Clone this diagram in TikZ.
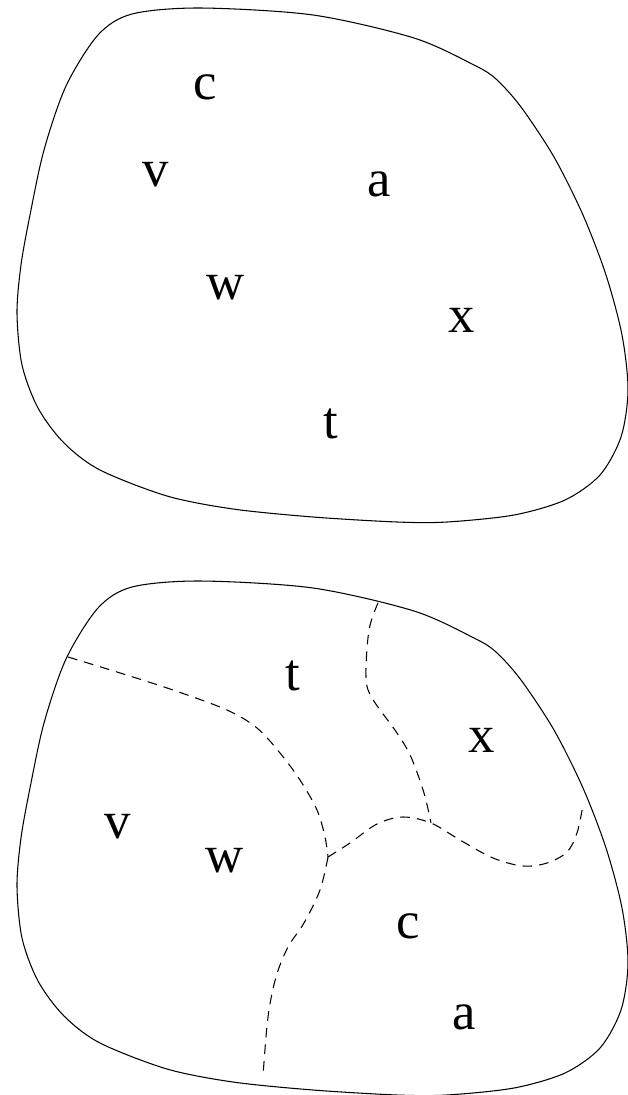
\documentclass[tikz,border=0pt]{standalone}
\usepackage{fontspec}
\setmainfont{Liberation Serif}
\usepackage{tikz}
\usetikzlibrary{positioning}

\newcommand{\blobpath}{plot[smooth cycle, tension=0.5] coordinates {
    (132,14) (200,8) (313,15) (414,38) (474,65) (496,79) (521,107)
    (554,157) (583,215) (606,275) (622,335) (628,390) (621,437)
    (600,475) (565,500) (514,515) (447,522) (397,522) (313,517)
    (233,509) (167,496) (100,470) (64,443) (38,408) (22,365) (17,313)
    (21,265) (30,215) (44,150) (66,86) (98,35)}}

\begin{document}
\begin{tikzpicture}[
  x=0.02cm, y=-0.02cm,
  blob/.style={draw, line width=0.6pt},
  border/.style={draw, line width=0.6pt, dash pattern=on 5.5pt off 4pt},
  elem/.style={font=\fontsize{30}{30}\selectfont, inner sep=0pt}
]
  \useasboundingbox (0,0) rectangle (628,1095);

  % the set, as given
  \draw[blob] \blobpath;
  \node[elem] (c1) at (205,87)  {c};
  \node[elem] (v1) at (156,175) {v};
  \node[elem] (a1) at (379,184) {a};
  \node[elem] (w1) at (226,288) {w};
  \node[elem] (x1) at (462,320) {x};
  \node[elem] (t1) at (331,424) {t};

  % the same set, cut into parts
  \begin{scope}[yshift=-573*0.02cm]
    \draw[blob] \blobpath;
  \end{scope}

  \coordinate (mid) at (328,857);
  \coordinate (knee) at (431,823);
  \draw[border] plot[smooth, tension=0.55] coordinates {
    (68,657) (117,672) (173,690) (227,710) (257,728) (280,753)
    (300,780) (317,810) (325,837) (mid)};
  \draw[border] plot[smooth, tension=0.55] coordinates {
    (mid) (320,890) (304,923) (288,947) (276,977) (268,1017) (263,1076)};
  \draw[border] plot[smooth, tension=0.55] coordinates {
    (mid) (350,843) (377,824) (403,817) (knee) (460,840) (493,858)
    (523,866) (547,863) (567,852) (577,833) (583,805)};
  \draw[border] plot[smooth, tension=0.55] coordinates {
    (378,603) (369,630) (366,677) (372,698) (397,733) (411,757)
    (424,793) (knee)};

  \node[elem] (t2) at (293,676)  {t};
  \node[elem] (x2) at (482,740)  {x};
  \node[elem] (v2) at (118,827)  {v};
  \node[elem] (w2) at (225,861)  {w};
  \node[elem] (c2) at (408,926)  {c};
  \node[elem] (a2) at (464,1017) {a};
\end{tikzpicture}
\end{document}
